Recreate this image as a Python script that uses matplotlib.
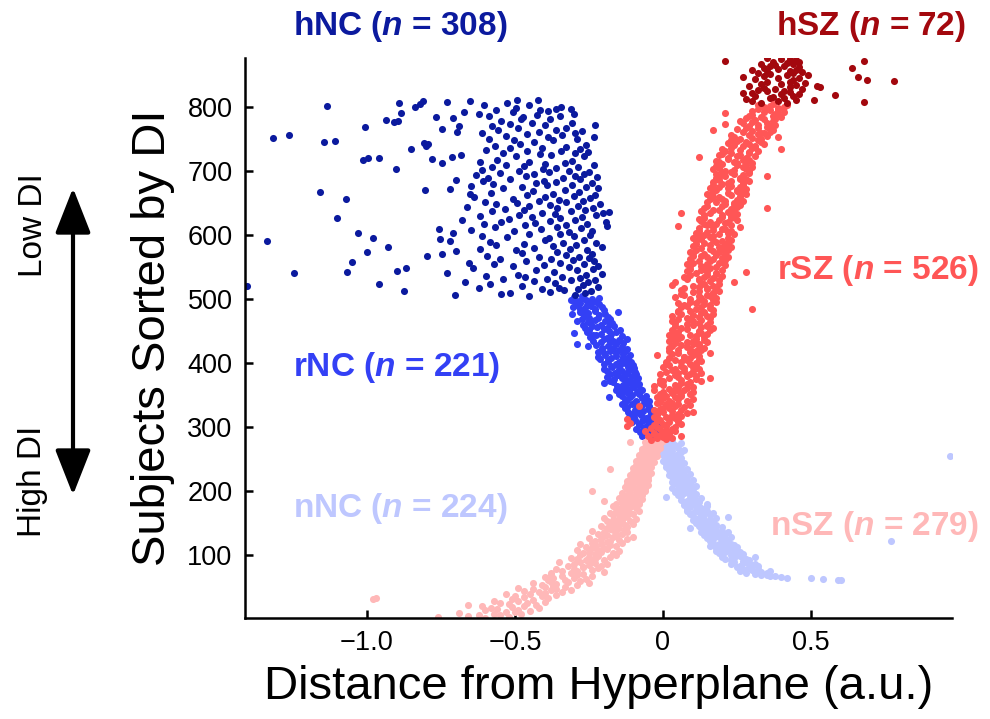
import numpy as np
import matplotlib.pyplot as plt

plt.rcParams['font.family'] = ['Liberation Sans', 'DejaVu Sans']
plt.rcParams['mathtext.fontset'] = 'custom'
plt.rcParams['mathtext.it'] = 'Liberation Sans:italic:bold'
plt.rcParams['axes.unicode_minus'] = True

# distance from hyperplane, listed in DI rank order (low rank first)
# nSZ / rSZ / hSZ / nNC in units of 0.01, rNC / hNC in units of 0.001
nsz_x = [-60, -76, -52, -66, -55, -62, -48, -57, -69, -50,
         -53, -45, -60, -49, -56, -42, -58, -51, -47, -61,
         -66, -43, -52, -46, -55, -40, -49, -57, -44, -51,
         -98, -39, -97, -47, -41, -50, -36, -45, -53, -40,
         -42, -34, -47, -38, -31, -44, -36, -49, -40, -33,
         -37, -41, -29, -36, -25, -44, -32, -38, -28, -39,
         -33, -26, -37, -30, -40, -24, -34, -29, -38, -27,
         -31, -38, -20, -29, -34, -24, -30, -36, -22, -27,
         -27, -21, -32, -25, -19, -30, -23, -28, -35, -24,
         -26, -20, -29, -23, -31, -18, -25, -22, -28, -16,
         -23, -17, -27, -21, -25, -15, -22, -29, -19, -24,
         -20, -26, -16, -23, -18, -28, -21, -14, -24, -19,
         -18, -23, -15, -21, -12, -25, -17, -10, -20, -16,
         -19, -14, -22, -16, -20, -12, -24, -17, -13, -18,
         -15, -19, -12, -17, -21, -13, -18, -10, -16, -14,
         -16, -11, -19, -14, -17, -9, -15, -20, -13, -12,
         -13, -17, -10, -15, -11, -18, -14, -8, -16, -12,
         -12, -15, -9, -14, -11, -17, -10, -13, -16, -8,
         -11, -14, -8, -20, -10, -13, -7, -12, -15, -9,
         -10, -13, -7, -12, -9, -14, -8, -11, -24, -6,
         -9, -12, -6, -11, -8, -13, -7, -10, -5, -12,
         -8, -11, -6, -10, -7, -12, -5, -9, -11, -6,
         -8, -5, -10, -7, -11, -6, -9, -4, -8, -10,
         -7, -9, -5, -18, -6, -10, -4, -8, -6, -9,
         -6, -8, -4, -7, -3, -9, -5, -7, -4, -8,
         -5, -7, -3, -6, -2, -8, -4, -6, -3, -7,
         -4, -6, -2, -5, -3, -7, -1, -4, -6, -2,
         -3, -5, -1, -4, -2, -11, -6, 0, -2]

rsz_x = [-4, 1, 3, -2, 0, 6, -5, 2, -1, -3,
         2, -3, 0, 4, -6, 1, -1, 3, -4, -2,
         4, -12, 1, -3, 6, 0, -11, 5, 2, -2,
         -1, 5, 2, -12, 4, -3, 1, 6, -2, 3,
         5, -2, 8, 0, 10, 3, -3, 6, -1, 2,
         0, 7, 4, -8, 9, 1, 5, -2, 3, -1,
         8, 2, -1, 5, 10, 0, 4, -2, 6, 1,
         6, -1, 9, 3, 0, 10, 5, -3, 7, 4,
         2, 8, 5, 10, -3, 4, 0, 8, -1, 6,
         9, 0, 13, 6, -1, 11, 2, 16, 5, 8,
         11, 4, -1, 9, 5, 13, 1, 7, 10, 3,
         4, 12, 7, 0, 10, 6, 2, 11, 1, 9,
         11, 6, 1, 13, 8, 4, 12, 2, 9, 7,
         7, 12, -2, 10, 3, 16, 5, 9, 2, 11,
         5, 13, 9, 2, 14, 8, 3, 12, 6, 10,
         12, 4, 15, 8, 2, 10, 14, 5, 11, 3,
         6, 14, 11, 2, 9, 15, 4, 13, 5, 12,
         12, 3, 16, 8, 17, 6, 13, 4, 15, 10,
         15, 8, 4, 12, 16, 3, 10, 13, 5, 9,
         8, 16, 12, 3, 15, 10, 6, 17, 13, 5,
         14, 9, 5, 17, 11, 30, 16, 6, 13, 8,
         16, 7, 14, 11, 5, 18, 9, 14, 17, 12,
         9, 18, 13, 4, 16, 12, 7, 15, 6, 17,
         17, 10, 19, 12, 6, 15, 18, 7, 15, 12,
         10, 17, 3, 14, 19, 13, 24, 4, 16, 12,
         19, 12, 8, 17, 14, 7, 20, 15, 9, 18,
         11, 18, 15, 28, 8, 20, 13, 9, 16, 14,
         18, 13, 9, 21, 15, 8, 19, 10, 20, 16,
         12, 21, 17, 9, 20, 15, 22, 10, 13, 18,
         21, 14, 10, 19, 9, 17, 22, 11, 20, 16,
         13, 19, 23, 10, 16, 21, 11, 22, 14, 18,
         20, 11, 17, 23, 13, 10, 22, 16, 12, 17,
         14, 24, 19, 11, 22, 15, 12, 23, 17, 20,
         21, 12, 26, 17, 5, 23, 15, 18, 14, 21,
         16, 22, 13, 25, 19, 12, 23, 14, 24, 20,
         23, 14, 20, 25, 16, 6, 22, 13, 24, 19,
         17, 23, 35, 14, 25, 20, 15, 26, 21, 24,
         24, 18, 15, 27, 21, 25, 16, 20, 26, 17,
         19, 26, 16, 23, 28, 15, 22, 27, 17, 25,
         25, 18, 28, 22, 16, 26, 19, 23, 17, 27,
         20, 27, 22, 17, 29, 23, 19, 28, 26, 18,
         26, 19, 35, 21, 27, 18, 24, 29, 20, 23,
         21, 29, 24, 17, 28, 19, 27, 30, 18, 25,
         28, 20, 25, 30, 19, 24, 18, 27, 29, 22,
         22, 28, 12, 25, 31, 19, 26, 20, 29, 23,
         29, 21, 32, 26, 40, 20, 30, 23, 31, 27,
         31, 24, 29, 34, 22, 28, 33, 25, 32, 23,
         26, 33, 30, 39, 24, 35, 29, 23, 32, 34,
         33, 27, 36, 30, 17, 37, 25, 32, 28, 35,
         36, 29, 32, 38, 21, 27, 35, 30, 37, 26,
         31, 38, 34, 28, 40, 33, 29, 37, 30, 39,
         38, 21, 34, 41, 30, 36, 39, 32, 35, 39,
         34, 41, 36, 32, 42, 37]

hsz_x = [33, 42, 68, 30, 39, 51, 45, 28, 36, 41,
         37, 44, 31, 58, 40, 46, 30, 27, 43, 35,
         41, 32, 47, 38, 34, 53, 43, 52, 29, 45,
         33, 40, 48, 43, 35, 78, 69, 44, 31, 39,
         46, 66, 27, 34, 42, 49, 36, 44, 32, 47,
         35, 43, 30, 45, 39, 64, 34, 46, 41, 36,
         38, 44, 33, 42, 46, 37, 68, 21, 45, 40,
         43, 35]

nnc_x = [60, 59, 54, 50, 42, 40, 36, 38, 33, 35,
         31, 35, 28, 33, 26, 36, 30, 27, 32, 29,
         29, 25, 32, 26, 30, 23, 31, 27, 24, 28,
         27, 23, 29, 21, 28, 24, 31, 20, 26, 25,
         23, 27, 19, 25, 21, 26, 18, 22, 24, 20,
         22, 18, 25, 20, 16, 24, 19, 23, 17, 21,
         20, 16, 77, 22, 17, 21, 15, 19, 23, 18,
         19, 14, 21, 16, 18, 22, 13, 20, 15, 18,
         17, 13, 9, 16, 20, 12, 18, 14, 17, 11,
         15, 12, 17, 11, 16, 10, 14, 18, 12, 22,
         13, 10, 16, 9, 14, 17, 10, 12, 8, 15,
         11, 14, 8, 13, 9, 12, 15, 7, 11, 10,
         15, 9, 7, 12, 8, 11, 6, 10, 13, 9,
         1, 10, 6, 9, 5, 11, 7, 10, 4, 8,
         8, 5, 10, 6, 9, 3, 8, 6, 11, 5,
         6, 9, 4, 7, 3, 8, 5, 10, 4, 7,
         5, 8, 3, 6, 2, 7, 4, 9, 3, 6,
         4, 7, 2, 5, 8, 3, 6, 1, 5, 3,
         3, 6, 1, 4, 7, 2, 5, 0, 4, 2,
         3, 1, 6, 2, 4, 97, 0, 5, 2, 1,
         2, 6, 3, -1, 7, 0, 2, 5, 3, 0,
         1, 4, 2, -1, 1, 6, -1, 1, 3, -2,
         0, -1, -2, -1]

rnc_x = [-44, -15, -70, -30, -9, -61, -52, -20, -78, -33,
         -38, -68, -24, -90, -55, -12, -62, -46, -30, -80,
         -82, -52, -20, -104, -44, -70, -28, -95, -61, -33,
         -58, -97, -115, -45, -74, -27, -106, -80, -40, -85,
         -118, -66, -37, -95, -52, -130, -82, -120, -48, -88,
         -70, -105, -140, -58, -98, -130, -48, -92, -120, -62,
         -128, -72, -112, -182, -58, -140, -103, -150, -80, -118,
         -88, -140, -125, -70, -160, -112, -76, -130, -150, -98,
         -155, -100, -135, -82, -200, -118, -168, -90, -178, -128,
         -112, -165, -85, -140, -188, -128, -105, -152, -92, -180,
         -162, -120, -95, -190, -138, -115, -198, -150, -98, -172,
         -118, -175, -145, -100, -160, -198, -130, -108, -150, -185,
         -185, -140, -212, -118, -175, -135, -220, -158, -112, -195,
         -135, -200, -160, -220, -128, -180, -150, -205, -120, -168,
         -205, -140, -252, -185, -225, -158, -291, -135, -210, -180,
         -170, -238, -150, -200, -121, -190, -245, -178, -140, -225,
         -235, -175, -210, -302, -160, -258, -182, -146, -250, -200,
         -190, -262, -222, -165, -240, -210, -270, -180, -248, -172,
         -255, -195, -290, -228, -180, -275, -220, -250, -185, -265,
         -268, -215, -309, -195, -255, -152, -282, -230, -270, -200,
         -280, -230, -265, -205, -305, -242, -258, -295, -215, -282,
         -245, -298, -225, -285, -260, -310, -240, -270, -215, -300,
         -275]

hnc_x = [-453, -702, -296, -548, -262, -517, -381, -876, -243, -334,
         -409, -287, -623, -352, -218, -476, -1405, -271, -583, -958,
         -364, -254, -668, -437, -312, -228, -541, -392, -279, -466,
         -342, -597, -259, -489, -207, -1248, -731, -1068, -368, -897,
         -291, -428, -236, -641, -869, -318, -506, -221, -402, -571,
         -268, -347, -657, -1052, -462, -233, -303, -552, -377, -249,
         -418, -283, -796, -593, -329, -748, -241, -476, -1001, -358,
         -698, -257, -498, -313, -618, -437, -929, -205, -372, -563,
         -293, -471, -339, -226, -584, -1338, -721, -397, -268, -753,
         -981, -386, -527, -302, -613, -247, -452, -348, -1031, -709,
         -318, -502, -239, -648, -413, -757, -276, -568, -357, -189,
         -466, -327, -603, -258, -432, -547, -192, -383, -679, -296,
         -521, -1102, -349, -441, -273, -617, -226, -487, -366, -201,
         -408, -184, -579, -311, -468, -262, -534, -357, -238, -661,
         -287, -452, -381, -563, -213, -494, -327, -602, -271, -418,
         -351, -1071, -508, -246, -397, -638, -302, -459, -228, -652,
         -372, -581, -1158, -283, -439, -803, -331, -721, -218, -539,
         -476, -259, -648, -392, -306, -574, -428, -241, -363, -609,
         -401, -698, -279, -517, -338, -592, -224, -463, -297, -631,
         -437, -268, -551, -384, -251, -488, -319, -613, -903, -406,
         -362, -578, -287, -471, -232, -529, -398, -748, -331, -619,
         -452, -306, -1012, -561, -779, -998, -958, -712, -268, -497,
         -378, -683, -417, -298, -542, -253, -461, -346, -598, -852,
         -282, -518, -409, -329, -567, -801, -259, -793, -482, -806,
         -1145, -437, -1109, -372, -503, -291, -588, -1318, -389, -234,
         -531, -342, -1262, -458, -297, -613, -418, -697, -273, -559,
         -362, -747, -491, -327, -1008, -688, -577, -398, -231, -516,
         -441, -309, -908, -896, -548, -937, -382, -479, -708, -766,
         -472, -348, -589, -427, -623, -302, -884, -508, -672, -388,
         -563, -417, -361, -312, -497, -838, -343, -1134, -452, -603,
         -822, -893, -528, -731, -651, -812, -493, -421]

sz_start = 1     # first SZ rank
nc_start = 60    # first NC rank on the shared axis

groups = ['nNC', 'rNC', 'hNC', 'nSZ', 'rSZ', 'hSZ']
counts = {'hNC': 308, 'rNC': 221, 'nNC': 224, 'hSZ': 72, 'rSZ': 526, 'nSZ': 279}
colors = {'hNC': '#0B1A9E', 'rNC': '#3340F5', 'nNC': '#BEC7FF',
          'hSZ': '#A3080E', 'rSZ': '#FF5656', 'nSZ': '#FFB8B8'}
xs = {'nNC': np.array(nnc_x) / 100.0, 'rNC': np.array(rnc_x) / 1000.0,
      'hNC': np.array(hnc_x) / 1000.0, 'nSZ': np.array(nsz_x) / 100.0,
      'rSZ': np.array(rsz_x) / 100.0, 'hSZ': np.array(hsz_x) / 100.0}

# ranks: groups are stacked in order within each diagnosis
ys = {}
pos = nc_start
for g in ['nNC', 'rNC', 'hNC']:
    ys[g] = np.arange(pos, pos + len(xs[g]))
    pos += len(xs[g])
pos = sz_start
for g in ['nSZ', 'rSZ', 'hSZ']:
    ys[g] = np.arange(pos, pos + len(xs[g]))
    pos += len(xs[g])

fig = plt.figure(figsize=(9.9, 7.19), dpi=100)
ax = fig.add_axes([0.2475, 0.1405, 0.714, 0.7788])

for g in groups:
    ax.scatter(xs[g], ys[g], s=26, color=colors[g], linewidths=0, zorder=2)

ax.set_xlim(-1.412, 0.976)
ax.set_ylim(1, 877)
ax.spines['right'].set_color('none')
ax.spines['top'].set_color('none')
for sp in ['left', 'bottom']:
    ax.spines[sp].set_linewidth(1.8)
ax.set_xticks([-1.0, -0.5, 0, 0.5])
ax.set_xticklabels(['\u22121.0', '\u22120.5', '0', '0.5'])
ax.set_yticks(np.arange(100, 900, 100))
ax.tick_params(direction='in', length=6, width=1.8, labelsize=19.5, pad=9)
ax.set_xlabel('Distance from Hyperplane (a.u.)', fontsize=34, labelpad=6)
ax.set_ylabel('Subjects Sorted by DI', fontsize=34, labelpad=9)

# group labels (pixel positions converted to figure fractions)
W, H = 990.0, 719.0
labels = [('hNC', 293, 27), ('hSZ', 776, 27), ('rSZ', 777, 271),
          ('rNC', 293, 367), ('nNC', 293, 509), ('nSZ', 770, 527)]
for g, px, py in labels:
    fig.text(px / W, 1 - py / H, g + ' ($n$ = %d)' % counts[g],
             color=colors[g], fontsize=24, fontweight='bold',
             ha='left', va='center')

# Low / High DI arrow
fig.text(33 / W, 1 - 225 / H, 'Low DI', rotation=90, fontsize=24,
         ha='center', va='center')
fig.text(33 / W, 1 - 481 / H, 'High DI', rotation=90, fontsize=24,
         ha='center', va='center')
fig.patches.append(plt.matplotlib.patches.FancyArrowPatch(
    (73 / W, 1 - 495 / H), (73 / W, 1 - 188 / H), transform=fig.transFigure,
    arrowstyle='<|-|>,head_length=1.4,head_width=0.55', mutation_scale=20,
    lw=3, color='black', shrinkA=0, shrinkB=0))

fig.savefig('out.png', dpi=100)
